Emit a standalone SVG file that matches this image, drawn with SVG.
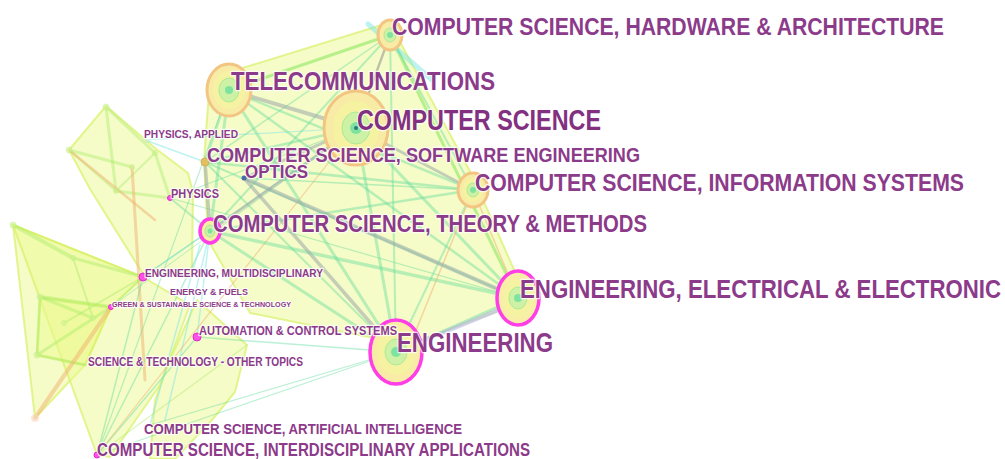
<svg xmlns="http://www.w3.org/2000/svg" width="1005" height="459" viewBox="0 0 1005 459">
<style>
.cl{fill:#ecfa90;fill-opacity:.5;stroke:#d6f060;stroke-opacity:.65;stroke-width:2;stroke-linejoin:round}
.eg{stroke:#9aa8aa;stroke-opacity:.55;fill:none;stroke-linecap:round}
.et{stroke:#5fdc9a;stroke-opacity:.42;fill:none;stroke-linecap:round}
.el{stroke:#a6ec66;stroke-opacity:.4;fill:none;stroke-linecap:round}
.ec{stroke:#7fe6e6;stroke-opacity:.5;fill:none;stroke-linecap:round}
.eo{stroke:#f2b070;stroke-opacity:.5;fill:none;stroke-linecap:round}
.lb{font-family:"Liberation Sans",Arial,sans-serif;font-weight:bold;fill:#8c3a8a;stroke:#fff;stroke-width:2.5;stroke-opacity:.8;paint-order:stroke;stroke-linejoin:round}
.r1{fill:#f8eba6;stroke:#f2c583;stroke-width:3}
.r2{fill:#f5f3a2}
.r3{fill:#cdf2a6;stroke:#aee996;stroke-width:1}
.r4{fill:#7fe3a0}
.ctr{fill:#2f7a7a}
.mg{stroke:#ff3ee6;stroke-width:3.5}
.sm{fill:#ff4fe8;stroke:#e02ccc;stroke-width:1}
.ln{fill:#d6f59a;stroke:#c2ee80;stroke-width:1;opacity:.6}
</style>

<g id="clusters">
<polygon class="cl" points="210,78 385,24 398,38 472,175 520,283 512,306 408,345 250,313 208,240 204,160"/>
<polygon class="cl" points="106,106 155,148 188,173 193,192 192,272 143,274 90,189 69,150"/>
<polygon class="cl" points="13,225 143,277 111,307 85,365 35,418"/>
<polygon class="cl" points="13,225 143,277 190,305 160,385 110,457 97,455"/>
<polygon class="cl" points="197,300 247,345 235,392 212,420 175,459 150,459 155,400 170,360"/>
<polygon class="cl" points="40,297 111,307 85,365 37,355"/>
</g>

<g id="connectors">
<line class="el" x1="106" y1="107" x2="116" y2="191" stroke-width="3"/>
<line class="el" x1="106" y1="107" x2="155" y2="153" stroke-width="3"/>
<line class="el" x1="69" y1="150" x2="132" y2="167" stroke-width="3"/>
<line class="el" x1="69" y1="150" x2="116" y2="191" stroke-width="2"/>
<line class="el" x1="116" y1="191" x2="170" y2="198" stroke-width="3"/>
<line class="el" x1="155" y1="153" x2="170" y2="198" stroke-width="3"/>
<line class="el" x1="155" y1="153" x2="116" y2="191" stroke-width="2"/>
<line class="eo" x1="132" y1="167" x2="145" y2="380" stroke-width="3" stroke-opacity=".3"/>
<line class="eo" x1="69" y1="150" x2="155" y2="220" stroke-width="2.5" stroke-opacity=".3"/>
<line class="el" x1="13" y1="225" x2="73" y2="258" stroke-width="4" stroke-opacity=".3"/>
<line class="el" x1="73" y1="258" x2="143" y2="277" stroke-width="3"/>
<line class="el" x1="73" y1="258" x2="93" y2="318" stroke-width="2"/>
<line class="el" x1="40" y1="297" x2="111" y2="307" stroke-width="4"/>
<line class="el" x1="40" y1="297" x2="93" y2="318" stroke-width="3"/>
<line class="el" x1="40" y1="297" x2="37" y2="355" stroke-width="3"/>
<line class="el" x1="37" y1="355" x2="111" y2="307" stroke-width="3"/>
<line class="el" x1="37" y1="355" x2="85" y2="365" stroke-width="3"/>
<line class="el" x1="64" y1="323" x2="143" y2="277" stroke-width="2"/>
<line class="eo" x1="35" y1="418" x2="111" y2="307" stroke-width="4" stroke-opacity=".35"/>
<line class="el" x1="111" y1="307" x2="143" y2="277" stroke-width="2"/>
<line class="et" x1="97" y1="455" x2="210" y2="231" stroke-width="1.5"/>
<line class="et" x1="97" y1="455" x2="396" y2="352" stroke-width="1.2"/>
<line class="et" x1="97" y1="455" x2="197" y2="337" stroke-width="1.5"/>
<line class="et" x1="97" y1="455" x2="143" y2="277" stroke-width="1.5"/>
<line class="et" x1="97" y1="455" x2="229" y2="90" stroke-width="1.2"/>
<line class="el" x1="97" y1="455" x2="247" y2="345" stroke-width="1.5"/>
<line class="ec" x1="150" y1="425" x2="200" y2="245" stroke-width="1.5"/>
<line class="ec" x1="165" y1="420" x2="210" y2="231" stroke-width="1.5"/>
<line class="et" x1="396" y1="352" x2="150" y2="425" stroke-width="1.2"/>
<line class="et" x1="396" y1="352" x2="197" y2="337" stroke-width="1.5"/>
<line class="ec" x1="143" y1="277" x2="210" y2="231" stroke-width="1.5"/>
<line class="et" x1="143" y1="277" x2="356" y2="128" stroke-width="1.2"/>
<line class="ec" x1="197" y1="337" x2="210" y2="231" stroke-width="1.5"/>
<line class="eo" x1="97" y1="455" x2="356" y2="128" stroke-width="1.2" stroke-opacity=".3"/>
<line class="et" x1="111" y1="307" x2="356" y2="128" stroke-width="1"/>
<line class="ec" x1="145" y1="140" x2="205" y2="162" stroke-width="1.5"/>
<line class="ec" x1="145" y1="140" x2="356" y2="128" stroke-width="1.2"/>
<line class="et" x1="170" y1="198" x2="210" y2="231" stroke-width="2"/>
<line class="et" x1="170" y1="198" x2="356" y2="128" stroke-width="1.2"/>
<line class="et" x1="170" y1="198" x2="518" y2="298" stroke-width="1.2"/>
<line x1="229" y1="90" x2="390" y2="35" stroke="#8ee860" stroke-opacity=".6" stroke-width="3" stroke-linecap="round"/>
<line x1="390" y1="35" x2="518" y2="298" stroke="#8ee860" stroke-opacity=".6" stroke-width="3" stroke-linecap="round"/>
<line class="ec" x1="368" y1="24" x2="432" y2="80" stroke-width="5" stroke-opacity=".28"/>
<line class="et" x1="229" y1="90" x2="210" y2="231" stroke-width="3"/>
<line class="et" x1="229" y1="90" x2="396" y2="352" stroke-width="3"/>
<line class="et" x1="229" y1="90" x2="518" y2="298" stroke-width="2.5"/>
<line class="et" x1="229" y1="90" x2="473" y2="190" stroke-width="2.5"/>
<line class="et" x1="229" y1="90" x2="205" y2="162" stroke-width="2.5"/>
<line class="et" x1="390" y1="35" x2="473" y2="190" stroke-width="2"/>
<line class="et" x1="390" y1="35" x2="396" y2="352" stroke-width="2"/>
<line class="et" x1="390" y1="35" x2="210" y2="231" stroke-width="2"/>
<line class="et" x1="390" y1="35" x2="205" y2="162" stroke-width="1.5"/>
<line class="et" x1="356" y1="128" x2="518" y2="298" stroke-width="3"/>
<line class="et" x1="356" y1="128" x2="396" y2="352" stroke-width="3"/>
<line class="et" x1="356" y1="128" x2="205" y2="162" stroke-width="2.5"/>
<line class="et" x1="205" y1="162" x2="473" y2="190" stroke-width="2.5"/>
<line class="et" x1="205" y1="162" x2="518" y2="298" stroke-width="2"/>
<line class="et" x1="205" y1="162" x2="396" y2="352" stroke-width="2"/>
<line class="et" x1="210" y1="231" x2="473" y2="190" stroke-width="2.5"/>
<line class="et" x1="210" y1="231" x2="518" y2="298" stroke-width="3.5"/>
<line class="et" x1="210" y1="231" x2="396" y2="352" stroke-width="3"/>
<line class="et" x1="473" y1="190" x2="396" y2="352" stroke-width="2"/>
<line class="et" x1="244" y1="178" x2="473" y2="190" stroke-width="1.5"/>
<line class="et" x1="396" y1="352" x2="518" y2="298" stroke-width="3"/>
<line class="eo" x1="473" y1="190" x2="410" y2="345" stroke-width="1.5"/>
<line class="eo" x1="473" y1="190" x2="518" y2="298" stroke-width="1.5"/>
<line class="eo" x1="390" y1="35" x2="356" y2="128" stroke-width="1.5"/>
<line class="eg" x1="229" y1="90" x2="356" y2="128" stroke-width="4"/>
<line class="eg" x1="390" y1="35" x2="356" y2="128" stroke-width="2.5"/>
<line class="eg" x1="356" y1="128" x2="473" y2="190" stroke-width="3"/>
<line class="eg" x1="244" y1="178" x2="518" y2="298" stroke-width="4"/>
<line class="eg" x1="244" y1="178" x2="396" y2="352" stroke-width="3.5"/>
<line class="eg" x1="356" y1="128" x2="210" y2="231" stroke-width="3"/>
<line class="eg" x1="356" y1="128" x2="244" y2="178" stroke-width="3"/>
<line class="eg" x1="205" y1="162" x2="210" y2="231" stroke-width="3.5"/>
<line x1="396" y1="352" x2="518" y2="302" stroke="#b4b4f0" stroke-opacity=".6" stroke-width="4" stroke-linecap="round"/>
</g>

<g id="minor-nodes">
<circle class="ln" cx="106" cy="107" r="3"/>
<circle class="ln" cx="69" cy="150" r="3"/>
<circle class="ln" cx="132" cy="167" r="2.5"/>
<circle class="ln" cx="116" cy="191" r="2.5"/>
<circle class="ln" cx="155" cy="153" r="2.5"/>
<circle class="ln" cx="13" cy="225" r="3"/>
<circle class="ln" cx="73" cy="258" r="2.5"/>
<circle class="ln" cx="40" cy="297" r="3"/>
<circle class="ln" cx="64" cy="323" r="2.5"/>
<circle class="ln" cx="93" cy="318" r="2.5"/>
<circle class="ln" cx="37" cy="355" r="3"/>
<circle cx="35" cy="418" r="4" fill="#f8d8c0" opacity=".6"/>
</g>

<g id="n-hardware">
<ellipse class="r1" cx="390" cy="35" rx="12" ry="15"/>
<ellipse class="r3" cx="390" cy="35" rx="6" ry="7"/>
<circle class="r4" cx="390" cy="35" r="3"/>
<text class="lb" transform="scale(0.85,1)" x="461.2" y="35" font-size="24" textLength="649.4" lengthAdjust="spacingAndGlyphs">COMPUTER SCIENCE, HARDWARE &amp; ARCHITECTURE</text>
</g>
<g id="n-telecom">
<ellipse class="r1" cx="229" cy="90" rx="22" ry="26"/>
<ellipse class="r2" cx="229" cy="90" rx="16" ry="19"/>
<ellipse class="r3" cx="229" cy="90" rx="10" ry="12"/>
<circle class="r4" cx="229" cy="90" r="4"/>
<text class="lb" x="231" y="90" font-size="26" textLength="264" lengthAdjust="spacingAndGlyphs">TELECOMMUNICATIONS</text>
</g>
<g id="n-cs">
<ellipse class="r1" cx="356" cy="128" rx="32" ry="37"/>
<ellipse class="r2" cx="356" cy="128" rx="23" ry="27"/>
<ellipse class="r3" cx="356" cy="128" rx="14" ry="16"/>
<circle class="r4" cx="356" cy="128" r="6"/>
<circle class="ctr" cx="356" cy="128" r="2"/>
<text class="lb" x="357" y="130" font-size="29" textLength="244" lengthAdjust="spacingAndGlyphs" style="fill:#82307f">COMPUTER SCIENCE</text>
</g>
<g id="n-software">
<circle cx="205" cy="162" r="4" fill="#e0c060" stroke="#d8b050"/>
<text class="lb" x="207" y="162" font-size="21" textLength="433" lengthAdjust="spacingAndGlyphs">COMPUTER SCIENCE, SOFTWARE ENGINEERING</text>
</g>
<g id="n-optics">
<circle cx="244" cy="178" r="2.5" fill="#4a6aa8"/>
<text class="lb" x="245" y="178" font-size="19" textLength="63" lengthAdjust="spacingAndGlyphs">OPTICS</text>
</g>
<g id="n-info">
<ellipse class="r1" cx="473" cy="190" rx="15" ry="17"/>
<ellipse class="r2" cx="473" cy="190" rx="10" ry="12"/>
<ellipse class="r3" cx="473" cy="190" rx="6" ry="7"/>
<circle class="r4" cx="473" cy="190" r="3"/>
<text class="lb" transform="scale(0.85,1)" x="558.8" y="191" font-size="24" textLength="575.3" lengthAdjust="spacingAndGlyphs">COMPUTER SCIENCE, INFORMATION SYSTEMS</text>
</g>
<g id="n-theory">
<ellipse class="mg" cx="210" cy="231" rx="10" ry="12" fill="#f5f0a0"/>
<ellipse class="r3" cx="210" cy="231" rx="5" ry="6"/>
<circle class="r4" cx="210" cy="231" r="2.5"/>
<text class="lb" x="213" y="232" font-size="24.5" textLength="434" lengthAdjust="spacingAndGlyphs">COMPUTER SCIENCE, THEORY &amp; METHODS</text>
</g>
<g id="n-eee">
<ellipse class="mg" cx="518" cy="298" rx="21" ry="27" fill="#f8eea8"/>
<ellipse class="r2" cx="518" cy="298" rx="15" ry="19"/>
<ellipse class="r3" cx="518" cy="298" rx="9" ry="11"/>
<circle class="r4" cx="518" cy="298" r="4"/>
<text class="lb" transform="scale(0.85,1)" x="611.8" y="298" font-size="25.5" textLength="565.9" lengthAdjust="spacingAndGlyphs">ENGINEERING, ELECTRICAL &amp; ELECTRONIC</text>
</g>
<g id="n-engineering">
<ellipse class="mg" cx="396" cy="352" rx="26" ry="32" fill="#f8eca6" stroke-width="4.5"/>
<ellipse class="r2" cx="396" cy="352" rx="19" ry="23"/>
<ellipse class="r3" cx="396" cy="352" rx="11" ry="13"/>
<circle class="r4" cx="396" cy="352" r="5"/>
<text class="lb" x="397" y="352" font-size="27" textLength="156" lengthAdjust="spacingAndGlyphs">ENGINEERING</text>
</g>
<g id="n-physics-applied">
<circle cx="145" cy="141" r="2.5" fill="#d8f0b0"/>
<text class="lb" x="144" y="138" font-size="11.5" textLength="94" lengthAdjust="spacingAndGlyphs">PHYSICS, APPLIED</text>
</g>
<g id="n-physics">
<circle class="sm" cx="170" cy="198" r="2.5"/>
<text class="lb" x="171" y="198" font-size="12.5" textLength="48" lengthAdjust="spacingAndGlyphs">PHYSICS</text>
</g>
<g id="n-eng-multi">
<circle class="sm" cx="143" cy="277" r="4"/>
<text class="lb" x="145" y="277" font-size="10.5" textLength="178" lengthAdjust="spacingAndGlyphs">ENGINEERING, MULTIDISCIPLINARY</text>
</g>
<g id="n-energy">
<text class="lb" x="170" y="295" font-size="9.5" textLength="78" lengthAdjust="spacingAndGlyphs">ENERGY &amp; FUELS</text>
</g>
<g id="n-green">
<circle class="sm" cx="111" cy="307" r="2.5"/>
<text class="lb" x="112" y="307" font-size="8" textLength="179" lengthAdjust="spacingAndGlyphs">GREEN &amp; SUSTAINABLE SCIENCE &amp; TECHNOLOGY</text>
</g>
<g id="n-automation">
<circle class="sm" cx="197" cy="337" r="4"/>
<text class="lb" x="199" y="335" font-size="12.5" textLength="198" lengthAdjust="spacingAndGlyphs">AUTOMATION &amp; CONTROL SYSTEMS</text>
</g>
<g id="n-scitech">
<text class="lb" x="88" y="366" font-size="13" textLength="215" lengthAdjust="spacingAndGlyphs">SCIENCE &amp; TECHNOLOGY - OTHER TOPICS</text>
</g>
<g id="n-ai">
<text class="lb" x="144" y="434" font-size="15.5" textLength="318" lengthAdjust="spacingAndGlyphs">COMPUTER SCIENCE, ARTIFICIAL INTELLIGENCE</text>
</g>
<g id="n-interdisc">
<circle class="sm" cx="97" cy="455" r="3" fill="none" stroke="#ff4fe8" stroke-width="1.5"/>
<text class="lb" x="97" y="456" font-size="17.5" textLength="433" lengthAdjust="spacingAndGlyphs">COMPUTER SCIENCE, INTERDISCIPLINARY APPLICATIONS</text>
</g>
</svg>
